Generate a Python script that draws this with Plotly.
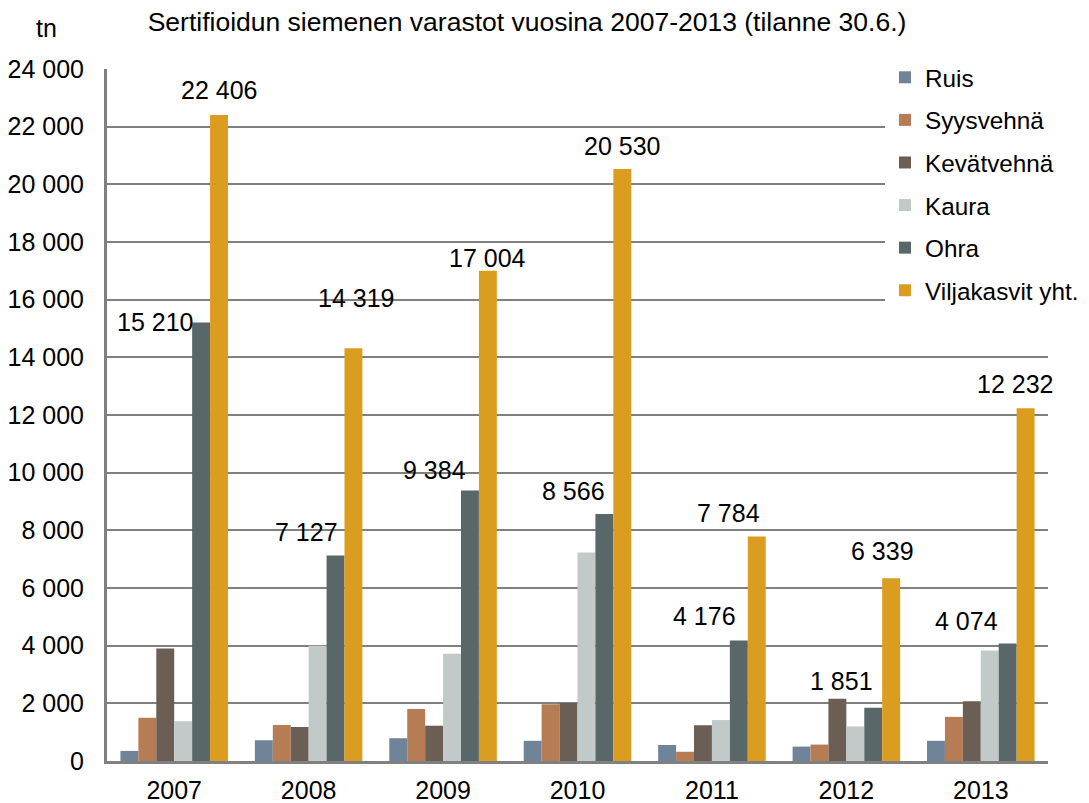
import plotly.graph_objects as go

years = ["2007", "2008", "2009", "2010", "2011", "2012", "2013"]
ruis = [350, 720, 790, 700, 555, 500, 700]
syysvehna = [1500, 1250, 1800, 1970, 320, 570, 1530]
kevatvehna = [3900, 1180, 1224, 2010, 1240, 2160, 2070]
kaura = [1380, 4000, 3720, 7230, 1420, 1200, 3830]
ohra = [15210, 7127, 9384, 8566, 4176, 1851, 4074]
yht = [22406, 14319, 17004, 20530, 7784, 6339, 12232]

series = [
    ("Ruis", ruis, "#6F8499"),
    ("Syysvehnä", syysvehna, "#B67D55"),
    ("Kevätvehnä", kevatvehna, "#6B5E55"),
    ("Kaura", kaura, "#C1C9C9"),
    ("Ohra", ohra, "#5A6769"),
    ("Viljakasvit yht.", yht, "#DB9D1F"),
]

# label pixel offsets (style): (dx from bar centre, dy above bar top)
ohra_lab_off = [(-46, 0), (-29, 24), (-35, 20), (-31, 23), (-34, 25), (-32, 27), (-41, 23)]
yht_lab_off = [(0, 25), (3, 50), (0, 13), (0, 23), (-28, 24), (-9, 27), (-11, 24)]

OFF = 8  # page body margin
W, H = 1089 - OFF, 803 - OFF
ML, MR, MT, MB = 107 - OFF, 41, 69 - OFF, 42
BARGAP = 0.2
FONT = "Liberation Sans, Arial, sans-serif"
FS = 25

def fmt(v):
    return f"{v:,}".replace(",", " ")

fig = go.Figure()
for i, (name, vals, col) in enumerate(series):
    fig.add_trace(go.Bar(
        x=years, y=vals, name=name, marker=dict(color=col, line=dict(width=0)),
        legendgroup=f"g{i}",
    ))

plot_w = W - ML - MR
plot_h = H - MT - MB
cat_w = plot_w / len(years)
bar_w = cat_w * (1 - BARGAP) / len(series)
ohra_off = 1.5 * bar_w
yht_off = 2.5 * bar_w

ann = []
for i, yr in enumerate(years):
    dx, dy = ohra_lab_off[i]
    ann.append(dict(x=i, y=ohra[i], xref="x", yref="y", text=fmt(ohra[i]), showarrow=False,
                    xshift=ohra_off + dx, yshift=dy, xanchor="center", yanchor="middle",
                    font=dict(size=FS, color="#000000", family=FONT)))
    dx, dy = yht_lab_off[i]
    ann.append(dict(x=i, y=yht[i], xref="x", yref="y", text=fmt(yht[i]), showarrow=False,
                    xshift=yht_off + dx, yshift=dy, xanchor="center", yanchor="middle",
                    font=dict(size=FS, color="#000000", family=FONT)))
ann.append(dict(x=(47 - OFF - ML) / plot_w, y=(H - MB - (28 - OFF)) / plot_h, xref="paper", yref="paper",
                text="tn", showarrow=False, xanchor="center", yanchor="middle",
                font=dict(size=FS, color="#000000", family=FONT)))

fig.update_layout(
    width=W, height=H,
    margin=dict(l=ML, r=MR, t=MT, b=MB, pad=0, autoexpand=False),
    paper_bgcolor="white", plot_bgcolor="white",
    barmode="group", bargap=BARGAP, bargroupgap=0,
    separators=", ",
    font=dict(family=FONT, size=FS, color="#000000"),
    title=dict(text="Sertifioidun siemenen varastot vuosina 2007-2013 (tilanne 30.6.)",
               x=(527 - OFF) / W, xanchor="center", y=1 - (22 - OFF) / H, yanchor="middle",
               yref="container", font=dict(size=26.5, color="#000000", family=FONT)),
    legend=dict(xref="container", yref="container", x=(885 - OFF) / W, xanchor="left",
                y=1 - (55 - OFF) / H, yanchor="top", bgcolor="white", borderwidth=0,
                tracegroupgap=8, font=dict(size=24.3, color="#000000", family=FONT)),
    annotations=ann,
    showlegend=True,
)
fig.update_xaxes(type="category", range=[-0.5, len(years) - 0.5], autorange=False,
                 showline=True, linecolor="#808080", linewidth=3, showgrid=False,
                 ticks="outside", ticklen=5, tickcolor="rgba(0,0,0,0)",
                 tickfont=dict(size=FS, color="#000000", family=FONT))
fig.update_yaxes(range=[0, 24000], autorange=False, dtick=2000, tickformat=",d", showline=True,
                 linecolor="#808080", linewidth=3, showgrid=True, gridcolor="#808080", gridwidth=2,
                 ticks="outside", ticklen=15, tickcolor="rgba(0,0,0,0)", zeroline=False,
                 tickfont=dict(size=FS, color="#000000", family=FONT))

fig.write_html("out.html")
